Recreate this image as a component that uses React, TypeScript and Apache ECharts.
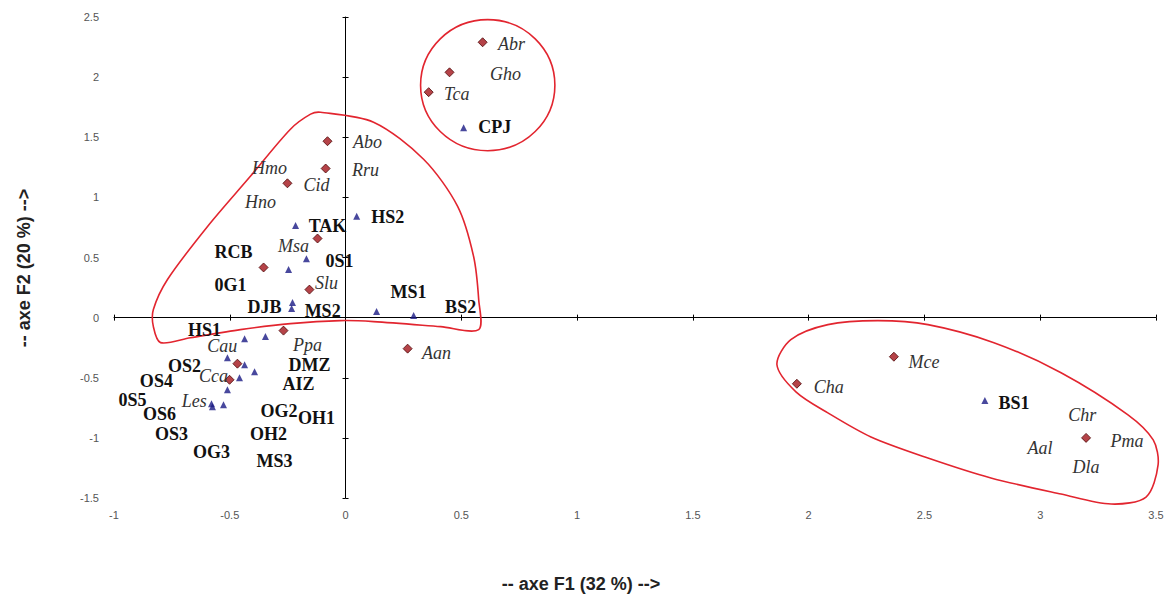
import React, { useEffect, useRef } from "react";
import * as echarts from "echarts";

// Axis ranges
const X_MIN = -1;
const X_MAX = 3.5;
const Y_MIN = -1.5;
const Y_MAX = 2.5;
const STEP = 0.5;

// Species (red diamonds) coordinates [F1, F2]
const speciesPoints: [number, number][] = [
  [0.592, 2.29],
  [0.449, 2.04],
  [0.359, 1.875],
  [-0.078, 1.467],
  [-0.086, 1.24],
  [-0.251, 1.117],
  [-0.121, 0.658],
  [-0.354, 0.417],
  [-0.156, 0.233],
  [-0.268, -0.108],
  [0.268, -0.258],
  [-0.467, -0.383],
  [-0.501, -0.517],
  [1.949, -0.55],
  [2.368, -0.325],
  [3.198, -1.0],
];

// Sites (blue triangles) coordinates [F1, F2]
const sitePoints: [number, number][] = [
  [0.51, 1.58],
  [-0.216, 0.767],
  [0.048, 0.842],
  [-0.169, 0.49],
  [-0.246, 0.4],
  [-0.229, 0.125],
  [-0.233, 0.075],
  [0.134, 0.05],
  [0.294, 0.017],
  [-0.346, -0.158],
  [-0.436, -0.175],
  [-0.51, -0.333],
  [-0.436, -0.392],
  [-0.393, -0.45],
  [-0.458, -0.5],
  [-0.51, -0.6],
  [-0.579, -0.717],
  [-0.575, -0.742],
  [-0.527, -0.725],
  [2.761, -0.69],
];

// Species labels (italic) placed at [F1, F2]
const speciesLabelPos: [number, number][] = [
  [0.717, 2.275], [0.691, 2.025], [0.48, 1.858], [0.095, 1.458], [0.086, 1.225],
  [-0.328, 1.242], [-0.125, 1.1], [-0.367, 0.958], [-0.225, 0.592], [-0.082, 0.292],
  [-0.532, -0.233], [-0.164, -0.225], [-0.57, -0.483], [-0.653, -0.692], [0.393, -0.292],
  [2.087, -0.575], [2.498, -0.367], [3.181, -0.808], [3.375, -1.025], [2.999, -1.083],
  [3.198, -1.242],
];
const speciesLabelText: string[] = [
  "Abr", "Gho", "Tca", "Abo", "Rru",
  "Hmo", "Cid", "Hno", "Msa", "Slu",
  "Cau", "Ppa", "Cca", "Les", "Aan",
  "Cha", "Mce", "Chr", "Pma", "Aal",
  "Dla",
];

// Site labels (bold) placed at [F1, F2]
const siteLabelPos: [number, number][] = [
  [0.644, 1.583], [-0.078, 0.758], [0.182, 0.833], [-0.484, 0.542], [-0.026, 0.475],
  [-0.497, 0.275], [-0.35, 0.092], [-0.099, 0.058], [0.272, 0.217], [0.497, 0.092],
  [-0.609, -0.1], [-0.696, -0.4], [-0.156, -0.392], [-0.817, -0.525], [-0.203, -0.55],
  [-0.92, -0.683], [-0.804, -0.8], [-0.287, -0.775], [-0.125, -0.833], [-0.752, -0.967],
  [-0.333, -0.967], [-0.579, -1.117], [-0.307, -1.192], [2.887, -0.708],
];
const siteLabelText: string[] = [
  "CPJ", "TAK", "HS2", "RCB", "0S1",
  "0G1", "DJB", "MS2", "MS1", "BS2",
  "HS1", "OS2", "DMZ", "OS4", "AIZ",
  "0S5", "OS6", "OG2", "OH1", "OS3",
  "OH2", "OG3", "MS3", "BS1",
];

// Group outlines (hand-drawn in the original), in data coordinates
const leftOutline: [number, number][] = [
  [-0.108, 1.708], [0.121, 1.625], [0.337, 1.317], [0.484, 0.925], [0.553, 0.508],
  [0.575, 0.15], [0.575, -0.1], [0.411, -0.075], [0.121, -0.033], [-0.022, -0.025],
  [-0.238, -0.05], [-0.454, -0.1], [-0.67, -0.167], [-0.799, -0.208], [-0.83, -0.075],
  [-0.83, 0.067], [-0.769, 0.317], [-0.596, 0.758], [-0.411, 1.175], [-0.238, 1.567],
  [-0.151, 1.692],
];
const rightOutline: [number, number][] = [
  [1.863, -0.392], [1.923, -0.183], [2.083, -0.058], [2.299, -0.025], [2.515, -0.058],
  [2.8, -0.208], [3.09, -0.458], [3.379, -0.808], [3.488, -1.017], [3.509, -1.225],
  [3.457, -1.492], [3.306, -1.55], [3.09, -1.467], [2.787, -1.333], [2.515, -1.167],
  [2.269, -0.992], [2.083, -0.792], [1.945, -0.617],
];
const topCircleCenter: [number, number] = [0.614, 1.933];
const topCircleRadius: [number, number] = [0.29, 0.545];

const TICK_FONT = "Liberation Sans";

export default function App() {
  const ref = useRef<HTMLDivElement>(null);

  useEffect(() => {
    if (!ref.current) return;
    const chart = echarts.init(ref.current, null, { renderer: "svg" });

    const outlineStyle = { fill: "none", stroke: "#e2252f", lineWidth: 1.6 };

    const baseX = { type: "value", min: X_MIN, max: X_MAX, interval: STEP, splitLine: { show: false } };
    const baseY = { type: "value", min: Y_MIN, max: Y_MAX, interval: STEP, splitLine: { show: false } };

    const option: any = {
      animation: false,
      backgroundColor: "#ffffff",
      grid: { left: 114, right: 15, top: 17, bottom: 98, containLabel: false },
      xAxis: [
        {
          ...baseX,
          position: "bottom",
          axisLine: { show: true, onZero: true, onZeroAxisIndex: 0, lineStyle: { color: "#000", width: 1 } },
          axisTick: { show: true, inside: false, length: 3, lineStyle: { color: "#000" } },
          axisLabel: { show: false },
        },
        {
          ...baseX,
          position: "bottom",
          axisLine: { show: false, onZero: false },
          axisTick: { show: false },
          axisLabel: { show: true, margin: 11, color: "#555", fontSize: 11, fontFamily: TICK_FONT },
        },
        {
          ...baseX,
          position: "bottom",
          axisLine: { show: false, onZero: true, onZeroAxisIndex: 0 },
          axisTick: { show: true, inside: true, length: 3, lineStyle: { color: "#000" } },
          axisLabel: { show: false },
        },
      ],
      yAxis: [
        {
          ...baseY,
          position: "left",
          axisLine: { show: true, onZero: true, onZeroAxisIndex: 0, lineStyle: { color: "#000", width: 1 } },
          axisTick: { show: true, inside: false, length: 3, lineStyle: { color: "#000" } },
          axisLabel: { show: false },
        },
        {
          ...baseY,
          position: "left",
          axisLine: { show: false, onZero: false },
          axisTick: { show: false },
          axisLabel: { show: true, margin: 15, color: "#555", fontSize: 11, fontFamily: TICK_FONT },
        },
        {
          ...baseY,
          position: "left",
          axisLine: { show: false, onZero: true, onZeroAxisIndex: 0 },
          axisTick: { show: true, inside: true, length: 3, lineStyle: { color: "#000" } },
          axisLabel: { show: false },
        },
      ],
      graphic: [
        {
          type: "text",
          x: 581,
          y: 584,
          style: {
            text: "-- axe F1 (32 %) -->",
            fontFamily: "Liberation Sans",
            fontWeight: "bold",
            fontSize: 18,
            fill: "#222",
            align: "center",
            verticalAlign: "middle",
          },
        },
        {
          type: "text",
          x: 24,
          y: 268,
          rotation: Math.PI / 2,
          style: {
            text: "-- axe F2 (20 %) -->",
            fontFamily: "Liberation Sans",
            fontWeight: "bold",
            fontSize: 18,
            fill: "#222",
            align: "center",
            verticalAlign: "middle",
          },
        },
      ],
      series: [
        {
          type: "custom",
          name: "outlines",
          xAxisIndex: 0,
          yAxisIndex: 0,
          clip: false,
          silent: true,
          z: 1,
          data: [[0, 0], [0, 0], [0, 0]],
          renderItem: (params: any, api: any) => {
            const i = params.dataIndex;
            if (i === 0) {
              return {
                type: "polygon",
                shape: { points: leftOutline.map((p) => api.coord(p)), smooth: 0.3 },
                style: outlineStyle,
              };
            }
            if (i === 1) {
              return {
                type: "polygon",
                shape: { points: rightOutline.map((p) => api.coord(p)), smooth: 0.3 },
                style: outlineStyle,
              };
            }
            const c = api.coord(topCircleCenter);
            const s = api.size(topCircleRadius);
            return {
              type: "ellipse",
              shape: { cx: c[0], cy: c[1], rx: s[0], ry: s[1] },
              style: outlineStyle,
            };
          },
        },
        {
          type: "scatter",
          name: "species",
          xAxisIndex: 0,
          yAxisIndex: 0,
          symbol: "diamond",
          symbolSize: 9,
          z: 3,
          itemStyle: { color: "#a3141a", borderColor: "#4e0707", borderWidth: 1 },
          data: speciesPoints,
        },
        {
          type: "scatter",
          name: "sites",
          xAxisIndex: 0,
          yAxisIndex: 0,
          symbol: "triangle",
          symbolSize: 7,
          z: 3,
          itemStyle: { color: "#1a1a84" },
          data: sitePoints,
        },
        {
          type: "custom",
          name: "speciesLabels",
          xAxisIndex: 0,
          yAxisIndex: 0,
          clip: false,
          silent: true,
          z: 4,
          data: speciesLabelPos,
          renderItem: (params: any, api: any) => {
            const p = api.coord([api.value(0), api.value(1)]);
            return {
              type: "text",
              x: p[0],
              y: p[1],
              style: {
                text: speciesLabelText[params.dataIndex],
                fontFamily: "Liberation Serif",
                fontStyle: "italic",
                fontSize: 18,
                fill: "#333",
                align: "center",
                verticalAlign: "middle",
              },
            };
          },
        },
        {
          type: "custom",
          name: "siteLabels",
          xAxisIndex: 0,
          yAxisIndex: 0,
          clip: false,
          silent: true,
          z: 4,
          data: siteLabelPos,
          renderItem: (params: any, api: any) => {
            const p = api.coord([api.value(0), api.value(1)]);
            return {
              type: "text",
              x: p[0],
              y: p[1],
              style: {
                text: siteLabelText[params.dataIndex],
                fontFamily: "Liberation Serif",
                fontWeight: "bold",
                fontSize: 18,
                fill: "#111",
                align: "center",
                verticalAlign: "middle",
              },
            };
          },
        },
      ],
    };

    chart.setOption(option);
    return () => chart.dispose();
  }, []);

  return (
    <div
      ref={ref}
      style={{ position: "absolute", left: 0, top: 0, width: 1171, height: 596, background: "#fff" }}
    />
  );
}
